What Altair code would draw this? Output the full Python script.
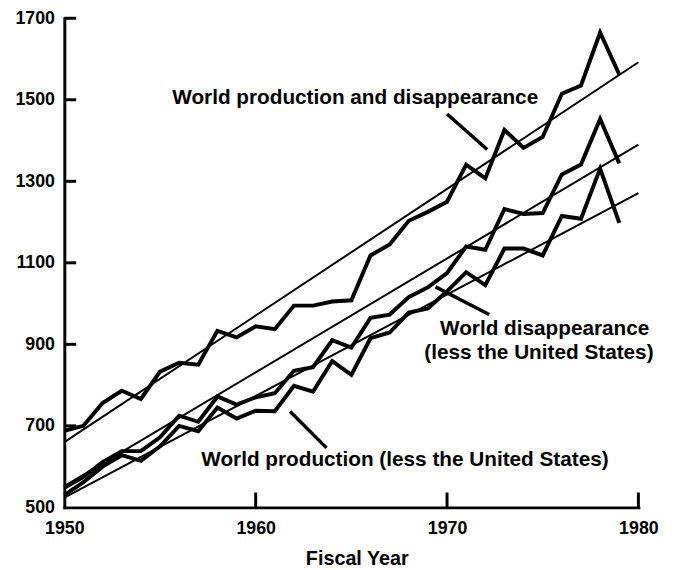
import altair as alt
import pandas as pd

FONT = "Liberation Sans"

# ---------------- data ----------------
years = list(range(1950, 1980))
world_total = [688, 700, 756, 786, 766, 833, 855, 850, 933, 917,
               944, 937, 995, 995, 1005, 1008, 1118, 1145, 1203, 1225,
               1250, 1341, 1307, 1426, 1382, 1409, 1515, 1535, 1665, 1562]
world_disp_less_us = [548, 575, 611, 638, 638, 672, 725, 710, 772, 752,
                      770, 780, 835, 844, 910, 892, 965, 973, 1016, 1040,
                      1075, 1140, 1132, 1232, 1220, 1222, 1317, 1341, 1453, 1344]
world_prod_less_us = [530, 562, 600, 628, 614, 650, 700, 687, 745, 718,
                      737, 736, 798, 784, 859, 825, 915, 929, 978, 988,
                      1030, 1077, 1045, 1135, 1135, 1118, 1215, 1208, 1331, 1198]

trend_years = [1950, 1980]
trend_total = [660, 1592]
trend_disp = [552, 1390]
trend_prod = [524, 1271]

x_tick_values = [1950, 1960, 1970, 1980]
y_tick_values = [500, 700, 900, 1100, 1300, 1500, 1700]
x_inner_ticks = [1960, 1970, 1980]
y_inner_ticks = [700, 900, 1100, 1300, 1500, 1700]

labels = ["World production and disappearance",
          "World disappearance",
          "(less the United States)",
          "World production (less the United States)"]
label_x = [1965.2, 1975.1, 1974.8, 1967.8]
label_y = [1489, 924, 864, 602]

pointer_x = [1970.0, 1969.4, 1961.8]
pointer_y = [1465, 1041, 735]
pointer_x2 = [1972.1, 1972.2, 1963.7]
pointer_y2 = [1378, 973, 646]

# ---------------- tables ----------------
series_df = pd.concat([
    pd.DataFrame({"year": years, "value": world_total, "series": "total"}),
    pd.DataFrame({"year": years, "value": world_disp_less_us, "series": "disp"}),
    pd.DataFrame({"year": years, "value": world_prod_less_us, "series": "prod"}),
])
trend_df = pd.concat([
    pd.DataFrame({"year": trend_years, "value": trend_total, "series": "total"}),
    pd.DataFrame({"year": trend_years, "value": trend_disp, "series": "disp"}),
    pd.DataFrame({"year": trend_years, "value": trend_prod, "series": "prod"}),
])
label_df = pd.DataFrame({"text": labels, "year": label_x, "value": label_y})
pointer_df = pd.DataFrame({"year": pointer_x, "value": pointer_y,
                           "year2": pointer_x2, "value2": pointer_y2})
xtick_df = pd.DataFrame({"year": x_inner_ticks})
ytick_df = pd.DataFrame({"value": y_inner_ticks})

W, H = 581, 495

xs = alt.Scale(domain=[1950, 1980], nice=False, zero=False)
ys = alt.Scale(domain=[500, 1700], nice=False, zero=False)

xa = alt.Axis(values=x_tick_values, format="d", ticks=False, grid=False,
              domainWidth=3, domainColor="black", domainCap="square",
              labelFont=FONT, labelFontWeight="bold", labelFontSize=18,
              labelColor="black", labelPadding=12, labelFlush=False,
              labelOverlap=False, labelBound=False,
              title="Fiscal Year", titleFont=FONT, titleFontWeight="bold",
              titleFontSize=20, titleColor="black", titleX=296, titleY=58,
              titleBaseline="alphabetic", titleAlign="center", titleAngle=0)
ya = alt.Axis(values=y_tick_values, format="d", ticks=False, grid=False,
              domainWidth=3, domainColor="black", domainCap="square",
              labelFont=FONT, labelFontWeight="bold", labelFontSize=18,
              labelColor="black", labelPadding=10, labelFlush=False,
              labelOverlap=False, labelBound=False, title=None)

X = lambda f="year": alt.X(f"{f}:Q", scale=xs, axis=xa, title="Fiscal Year")
Y = lambda f="value": alt.Y(f"{f}:Q", scale=ys, axis=ya, title=None)

lines = alt.Chart(series_df).mark_line(
    color="black", strokeWidth=4, strokeJoin="miter", strokeMiterLimit=10
).encode(x=X(), y=Y(), detail="series:N")

trends = alt.Chart(trend_df).mark_line(
    color="black", strokeWidth=2
).encode(x=X(), y=Y(), detail="series:N")

texts = alt.Chart(label_df).mark_text(
    font=FONT, fontSize=21, fontWeight="bold", align="center",
    baseline="alphabetic", color="black"
).encode(x=X(), y=Y(), text="text:N")

pointers = alt.Chart(pointer_df).mark_rule(
    color="black", strokeWidth=3.5
).encode(x=X(), y=Y(), x2="year2:Q", y2="value2:Q")

xticks = alt.Chart(xtick_df).mark_rule(color="black", strokeWidth=3).encode(
    x=X(), y=alt.value(H), y2=alt.value(H - 15))

yticks = alt.Chart(ytick_df).mark_rule(color="black", strokeWidth=3).encode(
    y=Y(), x=alt.value(0), x2=alt.value(12))

chart = alt.layer(trends, lines, pointers, texts, xticks, yticks).properties(
    width=W, height=H,
    padding={"left": 57, "top": 7, "right": 33, "bottom": 60},
    autosize=alt.AutoSizeParams(type="none"),
    background="white",
).configure_view(stroke=None)

chart.save("out.html", embed_options={"renderer": "svg", "actions": False})
